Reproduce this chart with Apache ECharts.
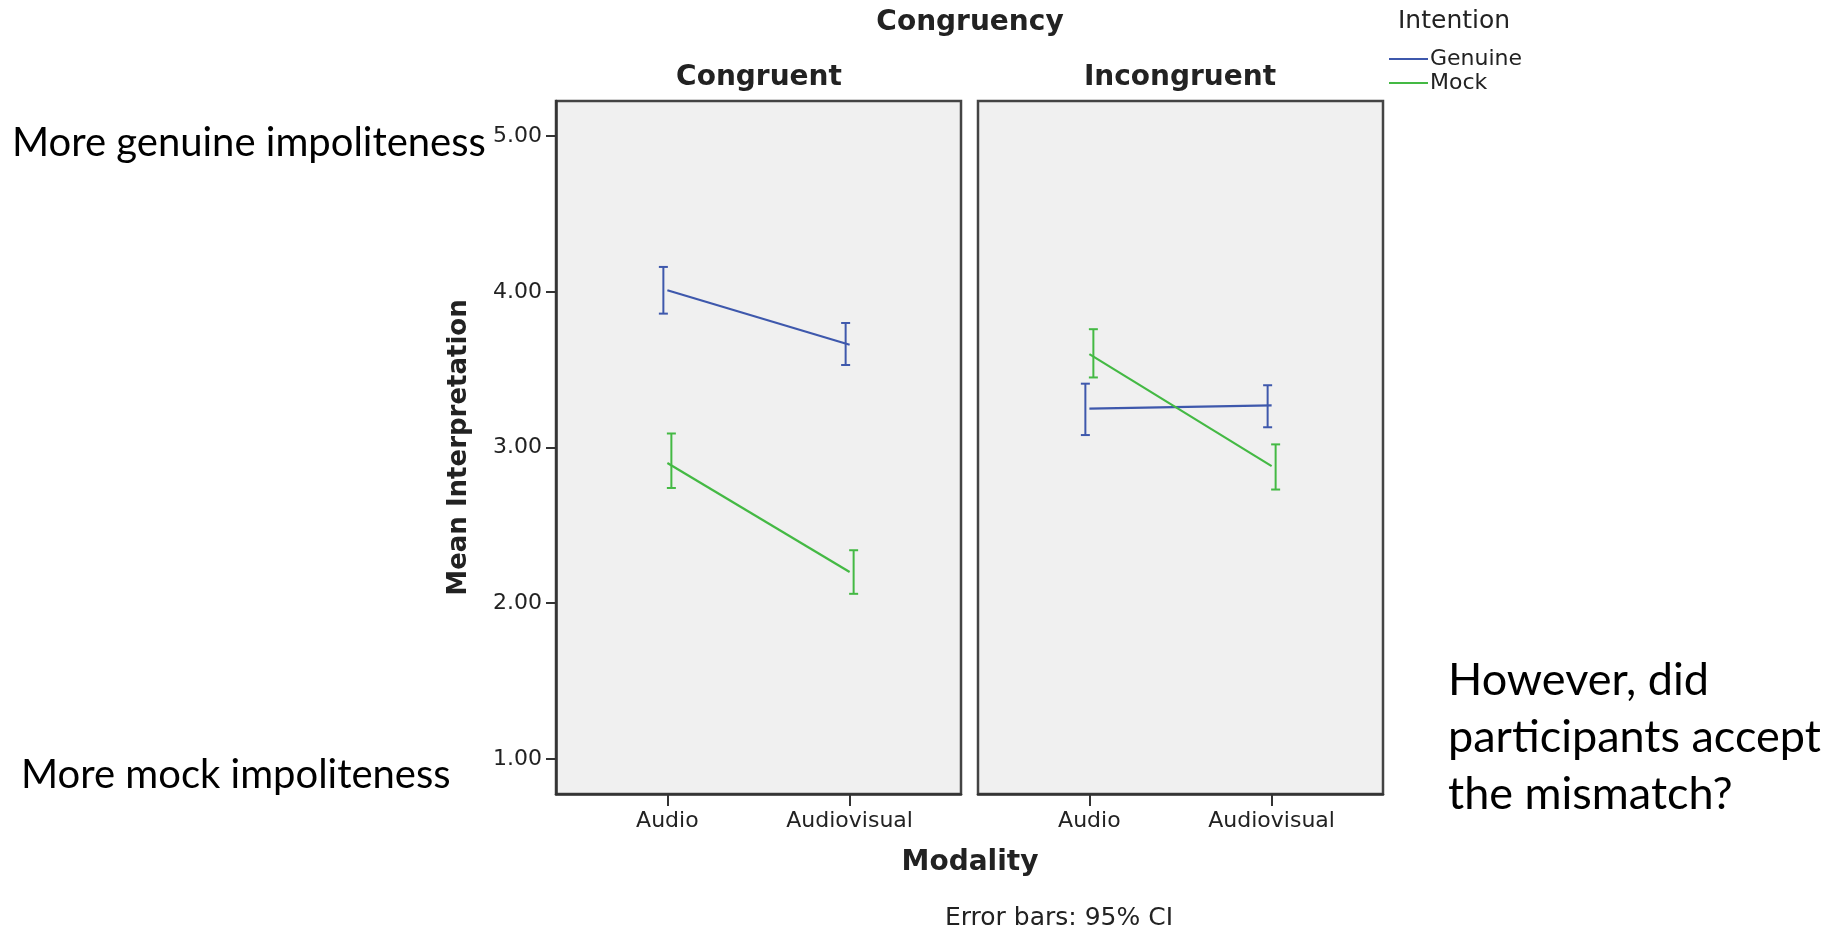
<!DOCTYPE html>
<html>
<head>
<meta charset="utf-8">
<script src="https://cdn.jsdelivr.net/npm/echarts@6/dist/echarts.min.js"></script>
<style>
  html, body { margin: 0; padding: 0; background: #fff; }
  #main { width: 1841px; height: 931px; }
</style>
</head>
<body>
<div id="main"></div>
<script>
// data
var modalities = ["Audio", "Audiovisual"];
var panels = ["Congruent", "Incongruent"];
var yTicks = [1, 2, 3, 4, 5];

var congruentGenuine = [4.01, 3.66];
var congruentGenuineCI = [[3.86, 4.16], [3.53, 3.80]];
var congruentMock = [2.90, 2.20];
var congruentMockCI = [[2.74, 3.09], [2.06, 2.34]];

var incongruentGenuine = [3.25, 3.27];
var incongruentGenuineCI = [[3.08, 3.41], [3.13, 3.40]];
var incongruentMock = [3.60, 2.88];
var incongruentMockCI = [[3.45, 3.76], [2.73, 3.02]];

var BLUE = "#3e58ac";
var GREEN = "#44b944";
var TXT = "#222";
var CHART_FONT = "DejaVu Sans";
var NOTE_FONT = "Lato";

var myChart = echarts.init(document.getElementById("main"));

function linePts(vals) {
  return vals.map(function (v, i) { return [i + 1, v]; });
}
function ciPts(ci) {
  return ci.map(function (c, i) { return [i + 1, c[0], c[1]]; });
}

// vertical error bar with caps, shifted a few px sideways like SPSS does
function errorBar(shift) {
  return function (params, api) {
    var lo = api.coord([api.value(0), api.value(1)]);
    var hi = api.coord([api.value(0), api.value(2)]);
    var x = lo[0] + shift;
    var cap = 4.5;
    var style = { stroke: api.visual("color"), lineWidth: 2 };
    return {
      type: "group",
      children: [
        { type: "line", shape: { x1: x, y1: lo[1], x2: x, y2: hi[1] }, style: style },
        { type: "line", shape: { x1: x - cap, y1: lo[1], x2: x + cap, y2: lo[1] }, style: style },
        { type: "line", shape: { x1: x - cap, y1: hi[1], x2: x + cap, y2: hi[1] }, style: style }
      ]
    };
  };
}

function lineSeries(name, color, idx, vals) {
  return {
    name: name,
    type: "line",
    xAxisIndex: idx,
    yAxisIndex: idx,
    data: linePts(vals),
    symbol: "none",
    color: color,
    lineStyle: { width: 2.2, color: color },
    z: 3
  };
}
function barSeries(name, color, idx, ci, shift) {
  return {
    name: name,
    type: "custom",
    xAxisIndex: idx,
    yAxisIndex: idx,
    data: ciPts(ci),
    color: color,
    renderItem: errorBar(shift),
    encode: { x: 0, y: [1, 2] },
    z: 4
  };
}

var gridTop = 101, gridH = 693, gridW = 405;
var gridLefts = [556, 978];

var xAxes = gridLefts.map(function (l, i) {
  return {
    type: "value",
    gridIndex: i,
    min: 0.389,
    max: 2.611,
    splitLine: { show: false },
    axisLine: { show: true, lineStyle: { color: "#333", width: 2.5 } },
    axisTick: { show: true, customValues: [1, 2], length: 12, lineStyle: { color: "#333", width: 2 } },
    axisLabel: {
      customValues: [1, 2],
      formatter: function (v) { return modalities[Math.round(v) - 1]; },
      margin: 16,
      color: TXT,
      fontFamily: CHART_FONT,
      fontSize: 22
    }
  };
});

var yAxes = gridLefts.map(function (l, i) {
  return {
    type: "value",
    gridIndex: i,
    min: 0.774,
    max: 5.226,
    splitLine: { show: false },
    axisLine: { show: i === 0, lineStyle: { color: "#333", width: 2.5 } },
    axisTick: { show: i === 0, customValues: yTicks, length: 10, lineStyle: { color: "#333", width: 2 } },
    axisLabel: {
      show: i === 0,
      customValues: yTicks,
      formatter: function (v) { return v.toFixed(2); },
      margin: 14,
      color: TXT,
      fontFamily: CHART_FONT,
      fontSize: 22
    },
    name: i === 0 ? "Mean Interpretation" : "",
    nameLocation: "middle",
    nameRotate: 90,
    nameGap: 84,
    nameTextStyle: { color: TXT, fontFamily: CHART_FONT, fontWeight: "bold", fontSize: 26 }
  };
});

var option = {
  backgroundColor: "#fff",
  animation: false,
  grid: gridLefts.map(function (l) {
    return {
      left: l, top: gridTop, width: gridW, height: gridH,
      show: true, backgroundColor: "#f0f0f0", borderColor: "#444", borderWidth: 2.5
    };
  }),
  xAxis: xAxes,
  yAxis: yAxes,
  legend: {
    data: ["Genuine", "Mock"],
    orient: "vertical",
    left: 1389,
    top: 48,
    padding: 0,
    icon: "rect",
    itemWidth: 39,
    itemHeight: 2,
    itemGap: 2,
    textStyle: { color: TXT, fontFamily: CHART_FONT, fontSize: 22, padding: [0, 0, 0, -3] }
  },
  graphic: [
    { type: "text", x: 970, y: 23, style: { text: "Congruency", font: "bold 28px " + CHART_FONT, fill: TXT, align: "center", verticalAlign: "middle" } },
    { type: "text", x: 759, y: 78, style: { text: panels[0], font: "bold 28px " + CHART_FONT, fill: TXT, align: "center", verticalAlign: "middle" } },
    { type: "text", x: 1180, y: 78, style: { text: panels[1], font: "bold 28px " + CHART_FONT, fill: TXT, align: "center", verticalAlign: "middle" } },
    { type: "text", x: 1398, y: 21, style: { text: "Intention", font: "25px " + CHART_FONT, fill: TXT, verticalAlign: "middle" } },
    { type: "text", x: 970, y: 863, style: { text: "Modality", font: "bold 28px " + CHART_FONT, fill: TXT, align: "center", verticalAlign: "middle" } },
    { type: "text", x: 1059, y: 918, style: { text: "Error bars: 95% CI", font: "25px " + CHART_FONT, fill: TXT, align: "center", verticalAlign: "middle" } },
    { type: "text", x: 12, y: 143, style: { text: "More genuine impoliteness", font: "40px " + NOTE_FONT, fill: "#000", verticalAlign: "middle" } },
    { type: "text", x: 21, y: 775, style: { text: "More mock impoliteness", font: "40px " + NOTE_FONT, fill: "#000", verticalAlign: "middle" } },
    { type: "text", x: 1448, y: 737, style: { text: "However, did\nparticipants accept\nthe mismatch?", font: "45px " + NOTE_FONT, lineHeight: 57, fill: "#000", verticalAlign: "middle" } }
  ],
  series: [
    lineSeries("Genuine", BLUE, 0, congruentGenuine),
    lineSeries("Mock", GREEN, 0, congruentMock),
    barSeries("Genuine", BLUE, 0, congruentGenuineCI, -4),
    barSeries("Mock", GREEN, 0, congruentMockCI, 4),
    lineSeries("Genuine", BLUE, 1, incongruentGenuine),
    lineSeries("Mock", GREEN, 1, incongruentMock),
    barSeries("Genuine", BLUE, 1, incongruentGenuineCI, -4),
    barSeries("Mock", GREEN, 1, incongruentMockCI, 4)
  ]
};

myChart.setOption(option);
</script>
</body>
</html>
